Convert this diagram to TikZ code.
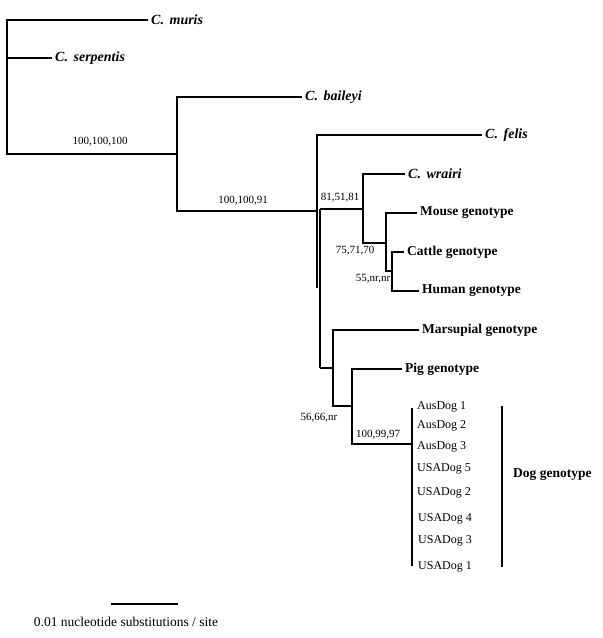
\documentclass[tikz,border=0pt]{standalone}
\usepackage{fontspec}
\setmainfont{Liberation Serif}
\begin{document}
\begin{tikzpicture}[x=1pt,y=-1pt,
  br/.style={line width=1.4pt},
  leaf/.style={anchor=west,inner xsep=3pt,inner ysep=0pt,font=\fontsize{13.5}{14}\selectfont\bfseries},
  sp/.style={leaf,font=\fontsize{14}{15}\selectfont\bfseries\itshape},
  dog/.style={anchor=west,inner sep=0pt,font=\fontsize{12}{13}\selectfont},
  boot/.style={inner sep=0pt,font=\fontsize{11}{12}\selectfont},
  bar/.style={line width=1.4pt}]
\useasboundingbox (0,0) rectangle (603,638);
% leaves
\node[sp] (muris) at (148,20) {C.\kern0.15em\ muris};
\node[sp] (serp) at (52,58) {C.\kern0.15em\ serpentis};
\node[sp] (bail) at (302,97) {C.\kern0.15em\ baileyi};
\node[sp] (felis) at (482,135) {C.\kern0.15em\ felis};
\node[sp] (wrairi) at (405,174) {C.\kern0.15em\ wrairi};
\node[leaf] (mouse) at (417,213) {Mouse genotype};
\node[leaf] (cattle) at (404,252) {Cattle genotype};
\node[leaf] (human) at (419,291) {Human genotype};
\node[leaf] (marsup) at (419,330) {Marsupial genotype};
\node[leaf] (pig) at (402,369) {Pig genotype};
% internal points
\coordinate (n1) at (7,154);
\coordinate (n2) at (177,154);
\coordinate (n2b) at (177,211);
\coordinate (n3) at (317,211);
\coordinate (n3b) at (317,288);
\coordinate (n4t) at (320,209);
\coordinate (n4b) at (320,368);
\coordinate (n5t) at (363,209);
\coordinate (n5b) at (363,243);
\coordinate (n6m) at (386,243);
\coordinate (n6b) at (386,271);
\coordinate (n7m) at (392,271);
\coordinate (n7b) at (392,291);
\coordinate (n8m) at (333,368);
\coordinate (n8b) at (333,406);
\coordinate (n9m) at (352,406);
\coordinate (n9b) at (352,444);
\coordinate (n10) at (412,444);
\coordinate (dt) at (412,408);
\coordinate (db) at (412,566);
% branches
\draw[br] (muris.west) -| (n1) -- (n2);
\draw[br] (serp.west) -- (serp.west -| n1);
\draw[br] (bail.west) -| (n2b) -- (n3);
\draw[br] (felis.west) -| (n3b);
\draw[br] (n4t) -- (n4b);
\draw[br] (n4t) -- (n5t);
\draw[br] (wrairi.west) -| (n5b) -- (n6m);
\draw[br] (mouse.west) -| (n6b) -- (n7m);
\draw[br] (cattle.west) -| (n7b) -- (human.west);
\draw[br] (n4b) -- (n8m);
\draw[br] (marsup.west) -| (n8b) -- (n9m);
\draw[br] (pig.west) -| (n9b) -- (n10);
\draw[br] (dt) -- (db);
% bootstrap labels
\node[boot] (b1) at (100,142) {100,100,100};
\node[boot] (b2) at (243,201) {100,100,91};
\node[boot] (b3) at (340,198) {81,51,81};
\node[boot] (b4) at (355,251) {75,71,70};
\node[boot] (b5) at (373,279) {55,nr,nr};
\node[boot] (b6) at (319,418) {56,66,nr};
\node[boot] (b7) at (378,435) {100,99,97};
% dog labels
\node[dog] (d1) at (417,407) {AusDog 1};
\node[dog] (d2) at (417,426) {AusDog 2};
\node[dog] (d3) at (417,447) {AusDog 3};
\node[dog] (d4) at (417,469) {USADog 5};
\node[dog] (d5) at (417,493) {USADog 2};
\node[dog] (d6) at (418,519) {USADog 4};
\node[dog] (d7) at (418,541) {USADog 3};
\node[dog] (d8) at (418,567) {USADog 1};
\coordinate (gt) at (502,406);
\coordinate (gb) at (502,567);
\draw[bar] (gt) -- (gb);
\node[leaf,inner xsep=0pt] (doggen) at (513,475) {Dog genotype};
% scale bar
\coordinate (s1) at (111,604);
\coordinate (s2) at (178,604);
\draw[bar] (s1) -- (s2);
\node[inner sep=0pt,font=\fontsize{13.5}{14}\selectfont] (scale) at (126,622) {0.01 nucleotide substitutions / site};
\end{tikzpicture}
\end{document}
